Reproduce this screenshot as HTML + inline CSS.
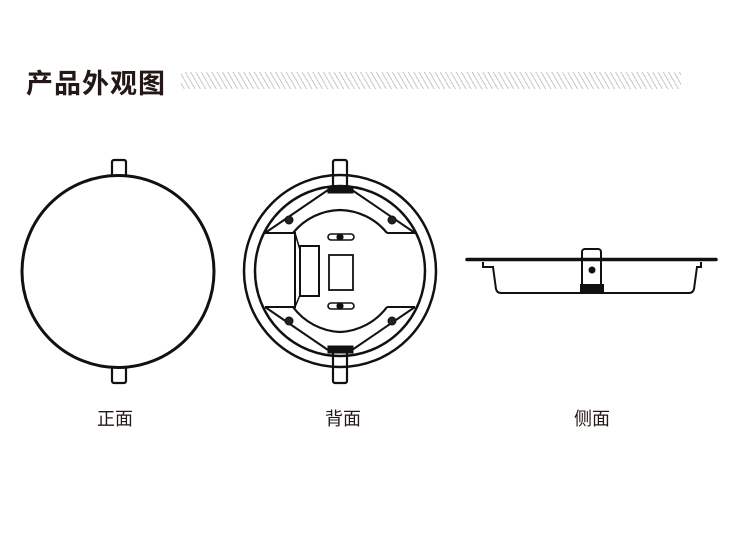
<!DOCTYPE html>
<html><head><meta charset="utf-8"><style>
html,body{margin:0;padding:0;background:#fff;width:750px;height:540px;overflow:hidden;position:relative}
.t{position:absolute;left:26px;top:62px;font:bold 27px "Liberation Sans","Noto Sans CJK SC",sans-serif;color:#231815;letter-spacing:1px}
.s{position:absolute;left:181px;top:72px;width:500px;height:17px;background:repeating-linear-gradient(60deg,#fff 0 2.5px,#c8c8c8 2.5px 3.5px,#fff 3.5px 4.6px)}
.l{position:absolute;top:405px;font:18px "Liberation Sans","Noto Sans CJK SC",sans-serif;color:#231815}
</style></head><body>
<div class="t">产品外观图</div>
<div class="s"></div>
<svg width="750" height="540" style="position:absolute;left:0;top:0" fill="none" stroke="#111" stroke-width="2.2">
<!-- front -->
<rect x="112" y="160" width="14" height="16" rx="2" fill="#fff"/>
<rect x="112" y="367" width="14" height="16" rx="2" fill="#fff"/>
<circle cx="118" cy="271.5" r="96" stroke-width="3" fill="#fff"/>
<!-- back -->
<rect x="333" y="160" width="14" height="30" rx="2" fill="#fff"/>
<rect x="333" y="350" width="14" height="33" rx="2" fill="#fff"/>
<circle cx="340" cy="271" r="96" stroke-width="2.5"/>
<circle cx="340" cy="271" r="85" stroke-width="2.5"/>
<path d="M340 210 A62 62 0 0 1 387 233 M340 210 A62 62 0 0 0 293 233 M340 332 A62 62 0 0 0 387 307 M340 332 A62 62 0 0 1 293 307" stroke-width="2.2"/>
<path d="M265 233 H295 V307 H265 M415 233 H387 M415 307 H387 M265 233 L328 190 M415 233 L352 190 M265 307 L328 350 M415 307 L352 350" stroke-width="2"/>
<path d="M295 233 L300 250 M295 307 L300 295" stroke-width="1.5"/>
<rect x="300" y="246" width="19" height="50" stroke-width="2"/>
<rect x="329" y="255" width="24" height="35" stroke-width="1.8"/>
<rect x="328" y="234" width="26" height="6" rx="3" stroke-width="1.6"/>
<rect x="328" y="303" width="26" height="6" rx="3" stroke-width="1.6"/>
<circle cx="340" cy="237" r="2.5" fill="#111"/><circle cx="340" cy="306" r="2.5" fill="#111"/>
<g fill="#222" stroke="#111" stroke-width="1"><circle cx="289" cy="220" r="4"/><circle cx="392" cy="220" r="4"/><circle cx="289" cy="321" r="4"/><circle cx="392" cy="321" r="4"/></g>
<rect x="328" y="187" width="25" height="6" fill="#111" stroke-width="1"/>
<rect x="328" y="346" width="25" height="7" fill="#111" stroke-width="1"/>
<!-- side -->
<path d="M483 262 V267 H493 L496 289 Q497 293 501 293 H689 Q693 293 694 289 L697 267 H701 V262" stroke-width="2"/>
<rect x="582" y="249" width="19" height="44" rx="3" fill="#fff" stroke-width="2"/>
<line x1="467" y1="259.5" x2="716" y2="259.5" stroke-width="3.5" stroke-linecap="round"/>
<circle cx="592" cy="270" r="3.5" fill="#111" stroke="none"/>
<rect x="580" y="284" width="24" height="9" fill="#111" stroke="none"/>
</svg>
<div class="l" style="left:97px">正面</div>
<div class="l" style="left:325px">背面</div>
<div class="l" style="left:574px">侧面</div>
</body></html>
